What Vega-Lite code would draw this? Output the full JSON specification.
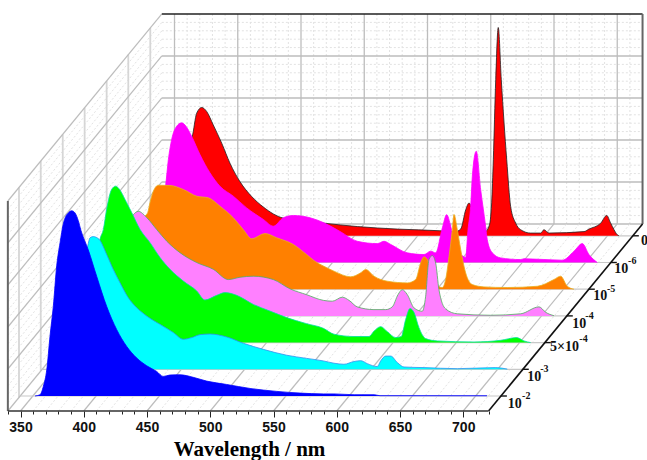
{"$schema":"https://vega.github.io/schema/vega-lite/v6.json","width":647,"height":411,"padding":{"left":0,"top":0,"right":0,"bottom":49},"autosize":"none","background":"white","config":{"view":{"stroke":null}},"resolve":{"scale":{"x":"independent","y":"independent"}},"layer":[
{"data":{"values":[{"wl":360},{"wl":370},{"wl":380},{"wl":390},{"wl":410},{"wl":420},{"wl":430},{"wl":440},{"wl":460},{"wl":470},{"wl":480},{"wl":490},{"wl":510},{"wl":520},{"wl":530},{"wl":540},{"wl":560},{"wl":570},{"wl":580},{"wl":590},{"wl":610},{"wl":620},{"wl":630},{"wl":640},{"wl":660},{"wl":670},{"wl":680},{"wl":690},{"wl":710}]},"mark":{"type":"rule","color":"#e2e2e2","strokeDash":[2,2],"strokeWidth":1},"encoding":{"x":{"field":"wl","type":"quantitative","scale":{"domain":[212.05,723.52],"nice":false,"zero":false},"axis":null},"y":{"datum":0,"type":"quantitative","scale":{"domain":[-89.05,106.66],"nice":false,"zero":false},"axis":null},"y2":{"datum":100}}},
{"data":{"values":[{"i":4},{"i":8},{"i":12},{"i":16},{"i":24},{"i":28},{"i":32},{"i":36},{"i":44},{"i":48},{"i":52},{"i":56},{"i":64},{"i":68},{"i":72},{"i":76},{"i":84},{"i":88},{"i":92},{"i":96}]},"mark":{"type":"rule","color":"#e2e2e2","strokeDash":[2,2],"strokeWidth":1},"encoding":{"y":{"field":"i","type":"quantitative","scale":{"domain":[-89.05,106.66],"nice":false,"zero":false},"axis":null},"x":{"datum":340,"type":"quantitative","scale":{"domain":[212.05,723.52],"nice":false,"zero":false},"axis":null},"x2":{"datum":720}}},
{"data":{"values":[{"wl":350},{"wl":400},{"wl":450},{"wl":500},{"wl":550},{"wl":600},{"wl":650},{"wl":700}]},"mark":{"type":"rule","color":"#bdbdbd","strokeWidth":1.3},"encoding":{"x":{"field":"wl","type":"quantitative","scale":{"domain":[212.05,723.52],"nice":false,"zero":false},"axis":null},"y":{"datum":0,"type":"quantitative","scale":{"domain":[-89.05,106.66],"nice":false,"zero":false},"axis":null},"y2":{"datum":100}}},
{"data":{"values":[{"i":0},{"i":20},{"i":40},{"i":60},{"i":80}]},"mark":{"type":"rule","color":"#bdbdbd","strokeWidth":1.3},"encoding":{"y":{"field":"i","type":"quantitative","scale":{"domain":[-89.05,106.66],"nice":false,"zero":false},"axis":null},"x":{"datum":340,"type":"quantitative","scale":{"domain":[212.05,723.52],"nice":false,"zero":false},"axis":null},"x2":{"datum":720}}},
{"data":{"values":[{"i":4,"j":93.05},{"i":8,"j":97.05},{"i":12,"j":101.05},{"i":16,"j":105.05},{"i":24,"j":113.05},{"i":28,"j":117.05},{"i":32,"j":121.05},{"i":36,"j":125.05},{"i":44,"j":133.05},{"i":48,"j":137.05},{"i":52,"j":141.05},{"i":56,"j":145.05},{"i":64,"j":153.05},{"i":68,"j":157.05},{"i":72,"j":161.05},{"i":76,"j":165.05},{"i":84,"j":173.05},{"i":88,"j":177.05},{"i":92,"j":181.05},{"i":96,"j":185.05}]},"mark":{"type":"rule","color":"#e2e2e2","strokeDash":[2,2],"strokeWidth":1},"encoding":{"y":{"field":"i","type":"quantitative","scale":{"domain":[0,195.71],"nice":false,"zero":false},"axis":null},"y2":{"field":"j"},"x":{"datum":340,"type":"quantitative","scale":{"domain":[333.79,845.26],"nice":false,"zero":false},"axis":null},"x2":{"datum":461.74}}},
{"data":{"values":[{"a":348.8,"i":6.4,"j":106.4},{"a":366,"i":19,"j":119},{"a":383.4,"i":31.7,"j":131.7},{"a":400.7,"i":44.4,"j":144.4},{"a":418.1,"i":57.2,"j":157.2},{"a":435.2,"i":69.7,"j":169.7},{"a":452.6,"i":82.4,"j":182.4}]},"mark":{"type":"rule","color":"#d6d6d6","strokeWidth":1.8},"encoding":{"x":{"field":"a","type":"quantitative","scale":{"domain":[333.79,845.26],"nice":false,"zero":false},"axis":null},"y":{"field":"i","type":"quantitative","scale":{"domain":[0,195.71],"nice":false,"zero":false},"axis":null},"y2":{"field":"j"}}},
{"data":{"values":[{"i":0,"j":89.05},{"i":20,"j":109.05},{"i":40,"j":129.05},{"i":60,"j":149.05},{"i":80,"j":169.05},{"i":100,"j":189.05}]},"mark":{"type":"rule","color":"#bdbdbd","strokeWidth":1.2},"encoding":{"y":{"field":"i","type":"quantitative","scale":{"domain":[0,195.71],"nice":false,"zero":false},"axis":null},"y2":{"field":"j"},"x":{"datum":340,"type":"quantitative","scale":{"domain":[333.79,845.26],"nice":false,"zero":false},"axis":null},"x2":{"datum":461.74}}},
{"data":{"values":[{"a":360,"b":481.74},{"a":370,"b":491.74},{"a":380,"b":501.74},{"a":390,"b":511.74},{"a":410,"b":531.74},{"a":420,"b":541.74},{"a":430,"b":551.74},{"a":440,"b":561.74},{"a":460,"b":581.74},{"a":470,"b":591.74},{"a":480,"b":601.74},{"a":490,"b":611.74},{"a":510,"b":631.74},{"a":520,"b":641.74},{"a":530,"b":651.74},{"a":540,"b":661.74},{"a":560,"b":681.74},{"a":570,"b":691.74},{"a":580,"b":701.74},{"a":590,"b":711.74},{"a":610,"b":731.74},{"a":620,"b":741.74},{"a":630,"b":751.74},{"a":640,"b":761.74},{"a":660,"b":781.74},{"a":670,"b":791.74},{"a":680,"b":801.74},{"a":690,"b":811.74},{"a":710,"b":831.74}]},"mark":{"type":"rule","color":"#e2e2e2","strokeDash":[2,2],"strokeWidth":1},"encoding":{"x":{"field":"a","type":"quantitative","scale":{"domain":[333.79,845.26],"nice":false,"zero":false},"axis":null},"x2":{"field":"b"},"y":{"datum":0,"type":"quantitative","scale":{"domain":[0,195.71],"nice":false,"zero":false},"axis":null},"y2":{"datum":89.05}}},
{"data":{"values":[{"a":350,"b":471.74},{"a":400,"b":521.74},{"a":450,"b":571.74},{"a":500,"b":621.74},{"a":550,"b":671.74},{"a":600,"b":721.74},{"a":650,"b":771.74},{"a":700,"b":821.74}]},"mark":{"type":"rule","color":"#bdbdbd","strokeWidth":1.2},"encoding":{"x":{"field":"a","type":"quantitative","scale":{"domain":[333.79,845.26],"nice":false,"zero":false},"axis":null},"x2":{"field":"b"},"y":{"datum":0,"type":"quantitative","scale":{"domain":[0,195.71],"nice":false,"zero":false},"axis":null},"y2":{"datum":89.05}}},
{"data":{"values":[{"a":349.76,"b":729.76,"i":7.14},{"a":367.1,"b":747.1,"i":19.86},{"a":384.5,"b":764.5,"i":32.57},{"a":401.9,"b":781.9,"i":45.29},{"a":419.3,"b":799.3,"i":58},{"a":436.7,"b":816.7,"i":70.71},{"a":454.1,"b":834.1,"i":83.43}]},"mark":{"type":"rule","color":"#c8c8c8","strokeWidth":1.2},"encoding":{"x":{"field":"a","type":"quantitative","scale":{"domain":[333.79,845.26],"nice":false,"zero":false},"axis":null},"x2":{"field":"b"},"y":{"field":"i","type":"quantitative","scale":{"domain":[0,195.71],"nice":false,"zero":false},"axis":null}}},
{"data":{"values":[{"edge":"top"}]},"mark":{"type":"rule","color":"#222222","strokeWidth":1.5},"encoding":{"x":{"datum":340,"type":"quantitative","scale":{"domain":[212.05,723.52],"nice":false,"zero":false},"axis":null},"x2":{"datum":720},"y":{"datum":100,"type":"quantitative","scale":{"domain":[-89.05,106.66],"nice":false,"zero":false},"axis":null}}},
{"data":{"values":[{"edge":"back right"}]},"mark":{"type":"rule","color":"#666666","strokeWidth":2},"encoding":{"x":{"datum":720,"type":"quantitative","scale":{"domain":[212.05,723.52],"nice":false,"zero":false},"axis":null},"y":{"datum":0,"type":"quantitative","scale":{"domain":[-89.05,106.66],"nice":false,"zero":false},"axis":null},"y2":{"datum":100}}},
{"data":{"values":[{"edge":"front left"}]},"mark":{"type":"rule","color":"#666666","strokeWidth":2},"encoding":{"x":{"datum":340,"type":"quantitative","scale":{"domain":[333.79,845.26],"nice":false,"zero":false},"axis":null},"y":{"datum":0,"type":"quantitative","scale":{"domain":[0,195.71],"nice":false,"zero":false},"axis":null},"y2":{"datum":100}}},
{"data":{"values":[{"s":"0","wl":351.7,"i":0},{"wl":355.7,"i":0.5},{"wl":358.9,"i":10},{"wl":362,"i":24.3},{"wl":365.2,"i":38.6},{"wl":368.3,"i":43.3},{"wl":371.7,"i":47.3},{"wl":375.2,"i":58.4},{"wl":379.2,"i":61.1},{"wl":383.1,"i":59.2},{"wl":388.3,"i":52.8},{"wl":395,"i":44.1},{"wl":401.5,"i":34.6},{"wl":409.4,"i":25.8},{"wl":418.7,"i":18.7},{"wl":427.9,"i":13.7},{"wl":443.7,"i":8.4},{"wl":475.8,"i":6},{"wl":502.2,"i":4.4},{"wl":533.8,"i":3.2},{"wl":567.5,"i":2.4},{"wl":579.4,"i":1.9},{"wl":583.9,"i":3.2},{"wl":587.9,"i":12.4},{"wl":590.5,"i":15.6},{"wl":593.6,"i":11.4},{"wl":597.6,"i":3.8},{"wl":603.1,"i":1.9},{"wl":606.3,"i":4.4},{"wl":608.4,"i":15.7},{"wl":609.7,"i":36.2},{"wl":611.6,"i":74.3},{"wl":613.6,"i":99.2},{"wl":616,"i":74.3},{"wl":620.3,"i":36.2},{"wl":623.4,"i":13.9},{"wl":627.4,"i":6},{"wl":631.3,"i":2.9},{"wl":639.2,"i":1.3},{"wl":647.2,"i":1.3},{"wl":649.7,"i":2.9},{"wl":653.7,"i":1.3},{"wl":681.4,"i":2},{"wl":685.3,"i":3.2},{"wl":694.6,"i":6},{"wl":699.3,"i":9.7},{"wl":702.5,"i":6},{"wl":705.1,"i":2.9},{"wl":707.7,"i":0.5},{"wl":709,"i":0}]},"mark":{"type":"area","interpolate":"monotone","color":"#ff0000","opacity":1,"line":{"color":"#222222","strokeWidth":0.8}},"encoding":{"x":{"field":"wl","type":"quantitative","scale":{"domain":[219.72,731.19],"nice":false,"zero":false},"axis":null},"y":{"field":"i","type":"quantitative","scale":{"domain":[-83.43,112.29],"nice":false,"zero":false},"axis":null},"y2":{"datum":0}}},
{"data":{"values":[{"s":"1e-6","wl":351.7,"i":0},{"wl":355.7,"i":0.5},{"wl":358.9,"i":8.6},{"wl":362,"i":19.5},{"wl":365.2,"i":30},{"wl":368.1,"i":37.1},{"wl":370.2,"i":49},{"wl":372.8,"i":58.5},{"wl":376.8,"i":64.9},{"wl":380.7,"i":66.5},{"wl":384.1,"i":64.9},{"wl":388.6,"i":60.1},{"wl":395.2,"i":51.4},{"wl":403.1,"i":42.7},{"wl":411,"i":36.3},{"wl":421.5,"i":31.6},{"wl":432.1,"i":26},{"wl":445.3,"i":20.5},{"wl":453.2,"i":17.3},{"wl":461.1,"i":21.3},{"wl":469,"i":22.4},{"wl":482.2,"i":21.3},{"wl":493.2,"i":18.9},{"wl":505.9,"i":14.8},{"wl":519.6,"i":10.1},{"wl":535.4,"i":9},{"wl":540.7,"i":10.1},{"wl":546,"i":8.6},{"wl":559.1,"i":4.6},{"wl":572.3,"i":3.8},{"wl":577.6,"i":5.4},{"wl":581.5,"i":4.6},{"wl":586.8,"i":16.5},{"wl":590.2,"i":22.8},{"wl":593.4,"i":17.3},{"wl":597.6,"i":5.2},{"wl":602.3,"i":3.3},{"wl":605.2,"i":2.4},{"wl":607.1,"i":15.7},{"wl":609.2,"i":26.8},{"wl":610.5,"i":41.1},{"wl":613.6,"i":53},{"wl":617.1,"i":34.7},{"wl":621,"i":17.3},{"wl":622.3,"i":10.9},{"wl":626.3,"i":4.6},{"wl":632.9,"i":2.2},{"wl":648.7,"i":1.4},{"wl":651.3,"i":1.8},{"wl":681.6,"i":1.1},{"wl":690.9,"i":5.4},{"wl":697.4,"i":9},{"wl":702.7,"i":3.8},{"wl":709.3,"i":0}]},"mark":{"type":"area","interpolate":"monotone","color":"#ff00ff","opacity":1,"line":{"color":"#ff00ff","strokeWidth":0.8}},"encoding":{"x":{"field":"wl","type":"quantitative","scale":{"domain":[237.11,748.58],"nice":false,"zero":false},"axis":null},"y":{"field":"i","type":"quantitative","scale":{"domain":[-70.71,125],"nice":false,"zero":false},"axis":null},"y2":{"datum":0}}},
{"data":{"values":[{"s":"1e-5","wl":351.7,"i":0},{"wl":355.7,"i":0.6},{"wl":358.9,"i":9.4},{"wl":362,"i":18.9},{"wl":365.2,"i":27.5},{"wl":368.3,"i":34.1},{"wl":371.3,"i":36.5},{"wl":373.1,"i":41.3},{"wl":375.7,"i":46.6},{"wl":379.6,"i":49.5},{"wl":388.9,"i":49.4},{"wl":399.4,"i":47.5},{"wl":410,"i":44.3},{"wl":419.2,"i":43.5},{"wl":428.4,"i":39.5},{"wl":438.9,"i":34},{"wl":446.8,"i":28.4},{"wl":453.5,"i":24},{"wl":464,"i":26.5},{"wl":473.2,"i":24.5},{"wl":486.4,"i":21.3},{"wl":496.9,"i":16.5},{"wl":503.5,"i":13.3},{"wl":510.6,"i":10.9},{"wl":518.5,"i":8.6},{"wl":531.7,"i":5.9},{"wl":539.6,"i":7.8},{"wl":543.6,"i":9.4},{"wl":550.2,"i":6.2},{"wl":560.7,"i":3.8},{"wl":576.5,"i":3},{"wl":583.1,"i":4.6},{"wl":587.1,"i":12.6},{"wl":589.7,"i":15.4},{"wl":592.3,"i":14.1},{"wl":595,"i":7.9},{"wl":599.2,"i":2.2},{"wl":604.1,"i":0.8},{"wl":606.8,"i":4.6},{"wl":609.5,"i":15.7},{"wl":612.1,"i":28.4},{"wl":613.4,"i":35.6},{"wl":616,"i":28.4},{"wl":618.7,"i":18.9},{"wl":622.6,"i":7.8},{"wl":627.9,"i":2.2},{"wl":637.1,"i":1.1},{"wl":655.5,"i":0.8},{"wl":679.3,"i":1.4},{"wl":692.4,"i":4.6},{"wl":697.7,"i":6.2},{"wl":703,"i":1.4},{"wl":708.3,"i":0}]},"mark":{"type":"area","interpolate":"monotone","color":"#ff8000","opacity":1,"line":{"color":"#e8b020","strokeWidth":0.8}},"encoding":{"x":{"field":"wl","type":"quantitative","scale":{"domain":[254.51,765.97],"nice":false,"zero":false},"axis":null},"y":{"field":"i","type":"quantitative","scale":{"domain":[-58,137.71],"nice":false,"zero":false},"axis":null},"y2":{"datum":0}}},
{"data":{"values":[{"s":"1e-4","wl":351.7,"i":0},{"wl":355.7,"i":0.6},{"wl":358.9,"i":8.7},{"wl":362,"i":17.3},{"wl":365.2,"i":25.9},{"wl":368.3,"i":34},{"wl":371.5,"i":41},{"wl":374.7,"i":46},{"wl":377.3,"i":48.2},{"wl":381.2,"i":49.8},{"wl":387.9,"i":46.8},{"wl":395.8,"i":41.1},{"wl":403.7,"i":35.6},{"wl":414.2,"i":30.1},{"wl":427.4,"i":25.4},{"wl":440.5,"i":22.2},{"wl":452.4,"i":17.3},{"wl":461.6,"i":18.4},{"wl":472.1,"i":18.9},{"wl":488,"i":17.3},{"wl":501.1,"i":12.9},{"wl":514.3,"i":10.1},{"wl":527.5,"i":7.4},{"wl":534.6,"i":7},{"wl":542.5,"i":8.9},{"wl":547.8,"i":7.4},{"wl":554.3,"i":4.3},{"wl":567.5,"i":3},{"wl":576.8,"i":3},{"wl":582,"i":4.3},{"wl":586.5,"i":10.1},{"wl":589.9,"i":12.5},{"wl":593.9,"i":10.1},{"wl":599.2,"i":3.8},{"wl":605.7,"i":2.2},{"wl":608.4,"i":9.4},{"wl":611,"i":26.8},{"wl":613.6,"i":28.7},{"wl":616.3,"i":25.2},{"wl":618.9,"i":12.5},{"wl":624.2,"i":3.3},{"wl":633.4,"i":1},{"wl":659.8,"i":0.3},{"wl":683.5,"i":1},{"wl":698,"i":4.3},{"wl":703.3,"i":1.7},{"wl":709.8,"i":0.1}]},"mark":{"type":"area","interpolate":"monotone","color":"#ff80ff","opacity":1,"line":{"color":"#50b060","strokeWidth":0.8}},"encoding":{"x":{"field":"wl","type":"quantitative","scale":{"domain":[271.9,783.36],"nice":false,"zero":false},"axis":null},"y":{"field":"i","type":"quantitative","scale":{"domain":[-45.29,150.43],"nice":false,"zero":false},"axis":null},"y2":{"datum":0}}},
{"data":{"values":[{"s":"5e-4","wl":351.7,"i":0},{"wl":355.7,"i":0.6},{"wl":358.9,"i":11.1},{"wl":362,"i":25.4},{"wl":365.2,"i":37.3},{"wl":368.3,"i":49.2},{"wl":371,"i":53.9},{"wl":373.6,"i":63.5},{"wl":377.6,"i":73},{"wl":380.7,"i":74.5},{"wl":384.2,"i":72.6},{"wl":388.1,"i":68.2},{"wl":393.4,"i":61.9},{"wl":400,"i":53.9},{"wl":407.9,"i":47.6},{"wl":415.8,"i":40.5},{"wl":423.7,"i":34.9},{"wl":434.2,"i":29.3},{"wl":444.8,"i":24.6},{"wl":451.3,"i":20.3},{"wl":460.6,"i":22.5},{"wl":467.2,"i":23.8},{"wl":476.4,"i":22.5},{"wl":489.5,"i":18.2},{"wl":502.7,"i":15},{"wl":515.9,"i":11.9},{"wl":531.7,"i":9},{"wl":544.9,"i":6.8},{"wl":553.3,"i":4},{"wl":569.1,"i":2.9},{"wl":581,"i":2.9},{"wl":585,"i":5.5},{"wl":590.2,"i":7.6},{"wl":595.5,"i":5.2},{"wl":602.1,"i":2.4},{"wl":606.5,"i":2.9},{"wl":610,"i":11.1},{"wl":613.4,"i":16.2},{"wl":616.6,"i":14.3},{"wl":620.5,"i":7.1},{"wl":625.8,"i":1.9},{"wl":635,"i":0.8},{"wl":664,"i":0.3},{"wl":685.1,"i":1.1},{"wl":697.7,"i":2.4},{"wl":703.5,"i":0.8},{"wl":708.8,"i":0}]},"mark":{"type":"area","interpolate":"monotone","color":"#00ff00","opacity":1,"line":{"color":"#00e0a0","strokeWidth":0.8}},"encoding":{"x":{"field":"wl","type":"quantitative","scale":{"domain":[289.29,800.75],"nice":false,"zero":false},"axis":null},"y":{"field":"i","type":"quantitative","scale":{"domain":[-32.57,163.14],"nice":false,"zero":false},"axis":null},"y2":{"datum":0}}},
{"data":{"values":[{"s":"1e-3","wl":351.7,"i":0},{"wl":355.7,"i":1},{"wl":358.9,"i":11.9},{"wl":362,"i":23.8},{"wl":366,"i":40.5},{"wl":369.9,"i":51.4},{"wl":375.7,"i":57.9},{"wl":377.8,"i":62.6},{"wl":380.4,"i":63.2},{"wl":385,"i":61.9},{"wl":391,"i":54.7},{"wl":396.2,"i":47.6},{"wl":401.5,"i":41.3},{"wl":408.1,"i":34.1},{"wl":414.7,"i":29.4},{"wl":422.6,"i":25.4},{"wl":433.2,"i":21.4},{"wl":443.7,"i":17.5},{"wl":451.6,"i":14.3},{"wl":458.2,"i":15.1},{"wl":464.8,"i":16.5},{"wl":472.7,"i":16.8},{"wl":485.9,"i":15.4},{"wl":499,"i":12.4},{"wl":514.8,"i":9.5},{"wl":533.3,"i":6.7},{"wl":549.1,"i":5.2},{"wl":562.2,"i":4},{"wl":570.7,"i":2.9},{"wl":578.6,"i":2.4},{"wl":586.5,"i":3.7},{"wl":591.8,"i":4.1},{"wl":597,"i":2.7},{"wl":604.9,"i":1.3},{"wl":607.6,"i":4},{"wl":611.6,"i":6.3},{"wl":615.5,"i":6.3},{"wl":620.8,"i":3.2},{"wl":626,"i":1.1},{"wl":641.9,"i":0.8},{"wl":668.2,"i":0.3},{"wl":698.5,"i":0.8},{"wl":707.7,"i":0.1}]},"mark":{"type":"area","interpolate":"monotone","color":"#00ffff","opacity":1,"line":{"color":"#3090f0","strokeWidth":0.8}},"encoding":{"x":{"field":"wl","type":"quantitative","scale":{"domain":[306.68,818.14],"nice":false,"zero":false},"axis":null},"y":{"field":"i","type":"quantitative","scale":{"domain":[-19.86,175.86],"nice":false,"zero":false},"axis":null},"y2":{"datum":0}}},
{"data":{"values":[{"s":"1e-2","wl":351.7,"i":0},{"wl":355.65,"i":0.6},{"wl":358.3,"i":4.6},{"wl":361,"i":12.5},{"wl":363.6,"i":28.7},{"wl":366.2,"i":42.9},{"wl":368.85,"i":62},{"wl":371.5,"i":73},{"wl":374,"i":81.8},{"wl":376,"i":85.5},{"wl":378,"i":87.2},{"wl":380.7,"i":88.2},{"wl":383.3,"i":87.2},{"wl":385.9,"i":83.5},{"wl":388,"i":78.9},{"wl":393.8,"i":69.6},{"wl":400.5,"i":56.9},{"wl":408.4,"i":42.6},{"wl":416.3,"i":31.6},{"wl":424.2,"i":23.6},{"wl":432.1,"i":18.1},{"wl":440,"i":14.4},{"wl":447.9,"i":11.7},{"wl":453.1,"i":9.3},{"wl":458.4,"i":10},{"wl":466.3,"i":10.1},{"wl":476.8,"i":8.9},{"wl":487.4,"i":7.1},{"wl":503.2,"i":5.5},{"wl":521.7,"i":3.6},{"wl":542.8,"i":2.2},{"wl":561.2,"i":1.4},{"wl":579.6,"i":1},{"wl":588,"i":1},{"wl":604,"i":0.6},{"wl":619.7,"i":0.6},{"wl":624.4,"i":0.15},{"wl":709,"i":0.1}]},"mark":{"type":"area","interpolate":"monotone","color":"#0000ff","opacity":1,"line":{"color":"#0000ff","strokeWidth":0.8}},"encoding":{"x":{"field":"wl","type":"quantitative","scale":{"domain":[324.03,835.49],"nice":false,"zero":false},"axis":null},"y":{"field":"i","type":"quantitative","scale":{"domain":[-7.14,188.57],"nice":false,"zero":false},"axis":null},"y2":{"datum":0}}},
{"data":{"values":[{"edge":"depth axis"}]},"mark":{"type":"rule","color":"#111111","strokeWidth":1.6},"encoding":{"x":{"datum":720,"type":"quantitative","scale":{"domain":[333.79,845.26],"nice":false,"zero":false},"axis":null},"x2":{"datum":841.74},"y":{"datum":0,"type":"quantitative","scale":{"domain":[0,195.71],"nice":false,"zero":false},"axis":null},"y2":{"datum":89.05}}},
{"data":{"values":[{"a":729.76,"b":734.5,"i":7.14},{"a":747.1,"b":751.8,"i":19.86},{"a":764.5,"b":769.2,"i":32.57},{"a":781.9,"b":786.6,"i":45.29},{"a":799.3,"b":804,"i":58},{"a":816.7,"b":821.4,"i":70.71},{"a":834.1,"b":838.8,"i":83.43}]},"mark":{"type":"rule","color":"#111111","strokeWidth":1.4},"encoding":{"x":{"field":"a","type":"quantitative","scale":{"domain":[333.79,845.26],"nice":false,"zero":false},"axis":null},"x2":{"field":"b"},"y":{"field":"i","type":"quantitative","scale":{"domain":[0,195.71],"nice":false,"zero":false},"axis":null}}},
{"data":{"values":[{"t":"10","a":735.1,"i":1.57},{"t":"10","a":750.6,"i":14.4},{"t":"5×10","a":768.6,"i":28.7},{"t":"10","a":786.2,"i":39.7},{"t":"10","a":802.8,"i":52.7},{"t":"10","a":819.4,"i":65.7},{"t":"0","a":840.5,"i":79}]},"mark":{"type":"text","font":"Liberation Serif","fontWeight":"bold","fontSize":14,"align":"left","baseline":"alphabetic","color":"#111111"},"encoding":{"text":{"field":"t"},"x":{"field":"a","type":"quantitative","scale":{"domain":[333.79,845.26],"nice":false,"zero":false},"axis":null},"y":{"field":"i","type":"quantitative","scale":{"domain":[0,195.71],"nice":false,"zero":false},"axis":null}}},
{"data":{"values":[{"t":"-2","a":746.5,"i":5.6},{"t":"-3","a":760.9,"i":18.4},{"t":"-4","a":791.8,"i":33},{"t":"-4","a":796.5,"i":43.8},{"t":"-5","a":813.6,"i":56.6},{"t":"-6","a":830.3,"i":69.8}]},"mark":{"type":"text","font":"Liberation Serif","fontWeight":"bold","fontSize":10,"align":"left","baseline":"alphabetic","color":"#111111"},"encoding":{"text":{"field":"t"},"x":{"field":"a","type":"quantitative","scale":{"domain":[333.79,845.26],"nice":false,"zero":false},"axis":null},"y":{"field":"i","type":"quantitative","scale":{"domain":[0,195.71],"nice":false,"zero":false},"axis":null}}},
{"data":{"values":[{"edge":"front axis"}]},"mark":{"type":"rule","color":"#333333","strokeWidth":1.6},"encoding":{"x":{"datum":340,"type":"quantitative","scale":{"domain":[333.79,845.26],"nice":false,"zero":false},"axis":{"title":"Wavelength / nm","titleFont":"Liberation Serif","titleFontSize":21,"titleFontWeight":"bold","titleColor":"#000000","titleX":249,"titleY":44,"titleBaseline":"alphabetic","titleAnchor":"middle","values":[340,350,360,370,380,390,400,410,420,430,440,450,460,470,480,490,500,510,520,530,540,550,560,570,580,590,600,610,620,630,640,650,660,670,680,690,700,710,720],"labelExpr":"datum.value%50==0 && datum.value>=350 && datum.value<=700 ? datum.label : ''","labelFont":"Liberation Sans","labelFontWeight":"bold","labelFontSize":14,"labelColor":"#111111","labelOverlap":false,"labelFlush":false,"labelPadding":3,"domain":false,"grid":false,"tickColor":"#222222","tickWidth":1,"tickSize":{"condition":{"test":"datum.value%50==0","value":6},"value":3}}},"x2":{"datum":720},"y":{"datum":0,"type":"quantitative","scale":{"domain":[0,195.71],"nice":false,"zero":false},"axis":null}}}
]}
